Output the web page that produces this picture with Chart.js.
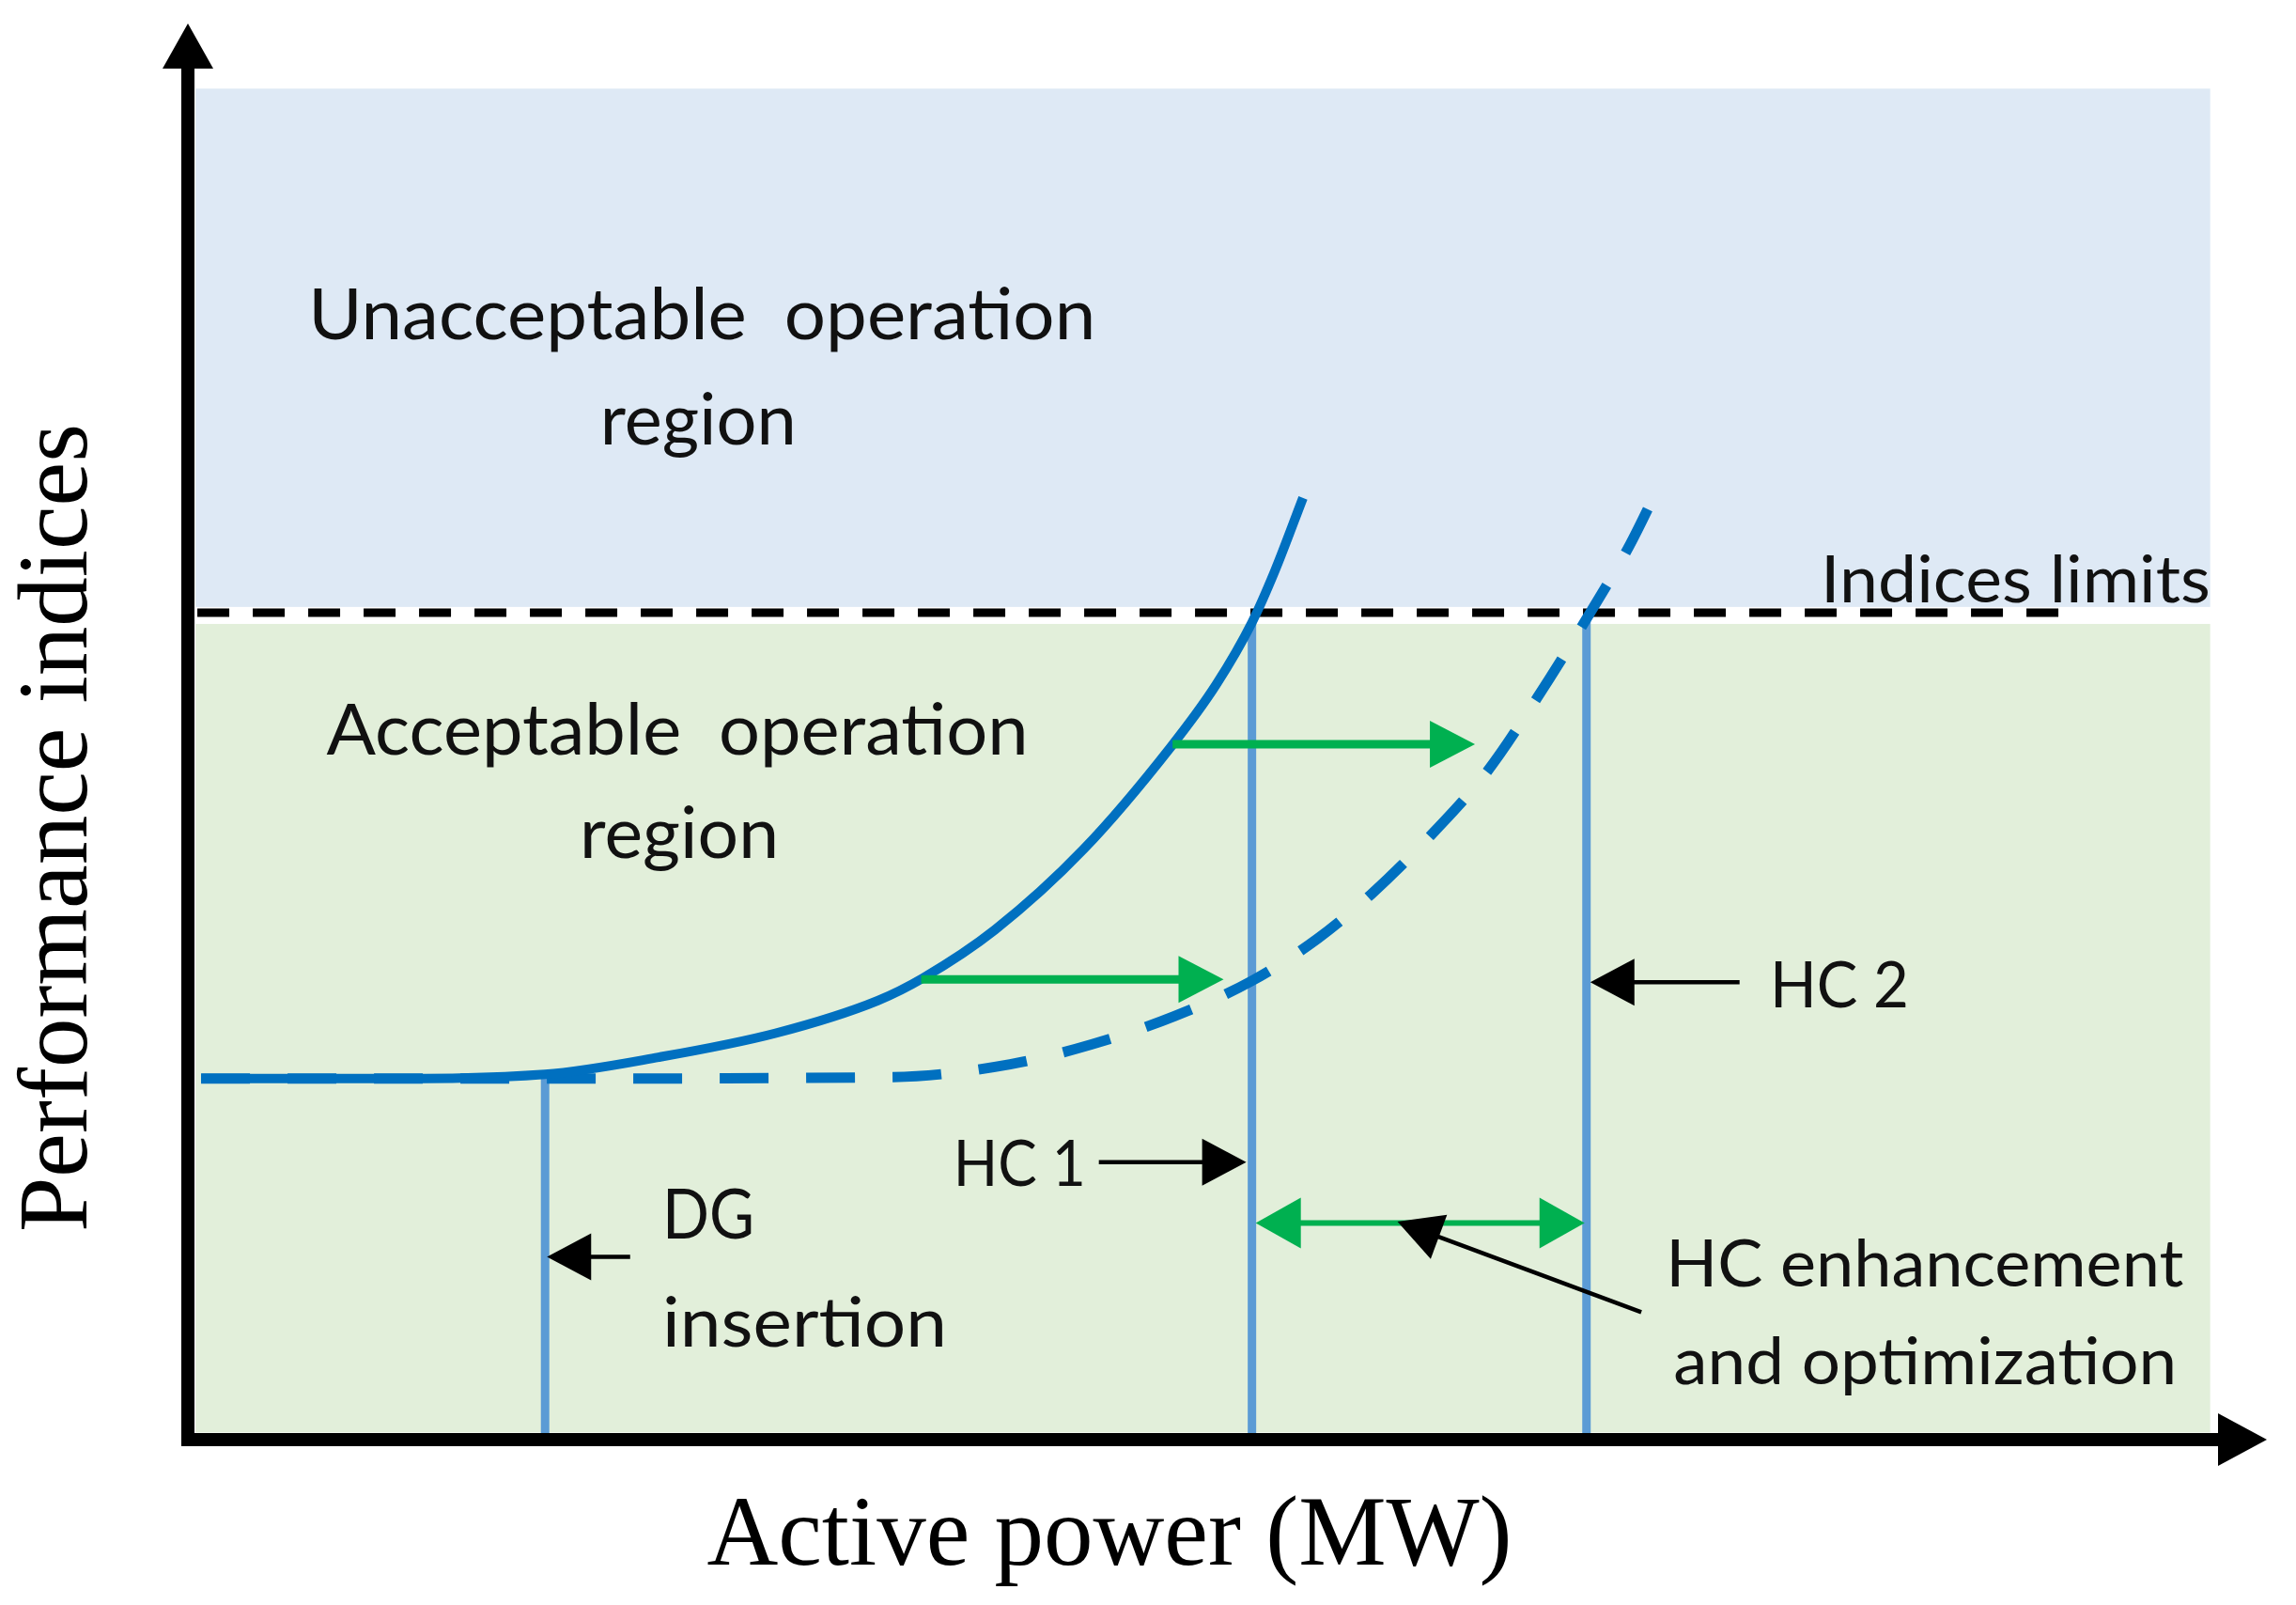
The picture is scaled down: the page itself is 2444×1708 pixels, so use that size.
<!DOCTYPE html>
<html>
<head>
<meta charset="utf-8">
<script src="https://cdn.jsdelivr.net/npm/chart.js@4/dist/chart.umd.min.js"></script>
<style>
html,body{margin:0;padding:0;background:#ffffff;}
#wrap{width:2444px;height:1708px;position:relative;}
</style>
</head>
<body>
<div id="wrap"><canvas id="c" width="2444" height="1708"></canvas></div>
<script>
// ---------------- DATA (abstract units: active power on x, performance index on y) ----------------
const originalCurveX = [0.07, 0.99, 1.89, 2.49, 3.11, 3.65, 3.89, 4.27, 4.74, 5.20, 5.44, 5.63, 5.75, 5.90];
const originalCurveY = [2.55, 2.55, 2.58, 2.70, 2.87, 3.10, 3.26, 3.60, 4.17, 4.89, 5.33, 5.77, 6.13, 6.65];

const enhancedCurveX = [0.07, 1.99, 3.73, 4.35, 4.78, 5.22, 5.63, 5.98, 6.26, 6.55, 6.87, 7.14, 7.42, 7.63, 7.80];
const enhancedCurveY = [2.55, 2.55, 2.56, 2.65, 2.79, 2.99, 3.24, 3.54, 3.85, 4.23, 4.71, 5.24, 5.84, 6.32, 6.78];

const indicesLimit = 5.84;
const limitLineX = [0.05, 10.01];

const regionX = [0.04, 10.70];
const unacceptableY = [5.88, 9.54];
const acceptableY = [0.05, 5.76];

// vertical markers: DG insertion, HC 1, HC 2
const markerNames = ["DG", "HC 1", "HC 2"];
const markerX = [1.89, 5.63, 7.40];
const markerTopY = [2.58, 5.77, 5.80];

// green shift arrows (original curve -> enhanced curve)
const shiftFromX = [3.88, 5.21];
const shiftToX = [5.48, 6.81];
const shiftY = [3.25, 4.91];

// HC enhancement span (HC 1 -> HC 2)
const spanX = [5.65, 7.39];
const spanY = 1.53;

// black pointer arrows: DG, HC 1, HC 2, enhancement
const pointerFromX = [2.34, 4.82, 8.21, 7.69];
const pointerFromY = [1.29, 1.96, 3.23, 0.90];
const pointerToX = [1.90, 5.60, 7.42, 6.40];
const pointerToY = [1.29, 1.96, 3.23, 1.54];

// text labels
const labelTexts = ["Unacceptable  operation", "region", "Acceptable  operation", "region",
  "Indices limits", "DG", "insertion", "HC 1", "HC 2", "HC enhancement", "and optimization"];
const axisTitleX = "Active power (MW)";
const axisTitleY = "Performance indices";

// ---------------- LAYOUT / STYLE ----------------
const labelLayout = [
  {x: 2.72, y: 7.77, align: 'center', size: 75, w: 838},
  {x: 2.70, y: 7.03, align: 'center', size: 75, w: 209},
  {x: 2.59, y: 4.84, align: 'center', size: 75, w: 747},
  {x: 2.60, y: 4.11, align: 'center', size: 75, w: 212},
  {x: 9.67, y: 5.91, align: 'center', size: 70, w: 415},
  {x: 2.51, y: 1.42, align: 'left', size: 74, w: 98},
  {x: 2.51, y: 0.66, align: 'left', size: 74, w: 303},
  {x: 4.05, y: 1.79, align: 'left', size: 67, w: 141},
  {x: 8.37, y: 3.05, align: 'left', size: 67, w: 148},
  {x: 7.82, y: 1.08, align: 'left', size: 70, w: 551},
  {x: 7.86, y: 0.39, align: 'left', size: 70, w: 536}
];
const BLUE_REGION = '#DEE9F5';
const GREEN_REGION = '#E2EFDA';
const CURVE = '#0070C0';
const MARKER = '#5B9BD5';
const GREEN = '#00B050';
const BLACK = '#000000';

const zip = (xs, ys) => xs.map((x, i) => ({x: x, y: ys[i]}));

const datasets = [
  {label: 'original', data: zip(originalCurveX, originalCurveY), showLine: true, borderColor: CURVE,
   borderWidth: 10, pointRadius: 0, cubicInterpolationMode: 'monotone', order: 0, borderCapStyle: 'butt'},
  {label: 'enhanced', data: zip(enhancedCurveX, enhancedCurveY), showLine: true, borderColor: CURVE,
   borderWidth: 11, borderDash: [52, 40], pointRadius: 0, cubicInterpolationMode: 'monotone', order: 1},
  {label: 'limit', data: zip(limitLineX, [indicesLimit, indicesLimit]), showLine: true, borderColor: BLACK,
   borderWidth: 9, borderDash: [34, 25], pointRadius: 0, order: 3}
];
markerX.forEach((mx, i) => {
  datasets.push({label: markerNames[i], data: [{x: mx, y: 0}, {x: mx, y: markerTopY[i]}], showLine: true,
    borderColor: MARKER, borderWidth: 9, pointRadius: 0, order: 2});
});

function arrowHead(ctx, x1, y1, x2, y2, len, half, color) {
  const a = Math.atan2(y2 - y1, x2 - x1);
  const bx = x2 - len * Math.cos(a), by = y2 - len * Math.sin(a);
  ctx.fillStyle = color;
  ctx.beginPath();
  ctx.moveTo(x2, y2);
  ctx.lineTo(bx + half * Math.sin(a), by - half * Math.cos(a));
  ctx.lineTo(bx - half * Math.sin(a), by + half * Math.cos(a));
  ctx.closePath();
  ctx.fill();
}
function arrow(ctx, x1, y1, x2, y2, color, lw, len, half, both) {
  const a = Math.atan2(y2 - y1, x2 - x1);
  ctx.save();
  ctx.strokeStyle = color; ctx.lineWidth = lw; ctx.lineCap = 'butt'; ctx.setLineDash([]);
  ctx.beginPath();
  const sx = both ? x1 + (len - 4) * Math.cos(a) : x1, sy = both ? y1 + (len - 4) * Math.sin(a) : y1;
  ctx.moveTo(sx, sy);
  ctx.lineTo(x2 - (len - 4) * Math.cos(a), y2 - (len - 4) * Math.sin(a));
  ctx.stroke();
  arrowHead(ctx, x1, y1, x2, y2, len, half, color);
  if (both) arrowHead(ctx, x2, y2, x1, y1, len, half, color);
  ctx.restore();
}

const diagramPlugin = {
  id: 'diagram',
  beforeDatasetsDraw(chart) {
    const {ctx, scales: {x, y}} = chart;
    ctx.save();
    ctx.fillStyle = BLUE_REGION;
    ctx.fillRect(x.getPixelForValue(regionX[0]), y.getPixelForValue(unacceptableY[1]),
      x.getPixelForValue(regionX[1]) - x.getPixelForValue(regionX[0]),
      y.getPixelForValue(unacceptableY[0]) - y.getPixelForValue(unacceptableY[1]));
    ctx.fillStyle = GREEN_REGION;
    ctx.fillRect(x.getPixelForValue(regionX[0]), y.getPixelForValue(acceptableY[1]),
      x.getPixelForValue(regionX[1]) - x.getPixelForValue(regionX[0]),
      y.getPixelForValue(acceptableY[0]) - y.getPixelForValue(acceptableY[1]));
    ctx.restore();
  },
  afterDatasetsDraw(chart) {
    const {ctx, chartArea, scales: {x, y}} = chart;
    const px = v => x.getPixelForValue(v), py = v => y.getPixelForValue(v);
    // green shift arrows
    shiftFromX.forEach((fx, i) => {
      arrow(ctx, px(fx), py(shiftY[i]), px(shiftToX[i]), py(shiftY[i]), GREEN, 9, 48, 25, false);
    });
    // enhancement span
    arrow(ctx, px(spanX[0]), py(spanY), px(spanX[1]), py(spanY), GREEN, 6, 48, 27, true);
    // pointer arrows
    pointerFromX.forEach((fx, i) => {
      arrow(ctx, px(fx), py(pointerFromY[i]), px(pointerToX[i]), py(pointerToY[i]), BLACK, 4.5, 47, 25, false);
    });
    // axes
    const ox = chartArea.left, oy = chartArea.bottom;
    ctx.save();
    ctx.strokeStyle = BLACK; ctx.lineWidth = 14; ctx.setLineDash([]);
    ctx.beginPath();
    ctx.moveTo(ox, oy + 7); ctx.lineTo(ox, chartArea.top + 45);
    ctx.moveTo(ox - 7, oy); ctx.lineTo(chartArea.right - 49, oy);
    ctx.stroke();
    arrowHead(ctx, ox, oy, ox, chartArea.top, 48, 27, BLACK);
    arrowHead(ctx, ox, oy, chartArea.right, oy, 52, 28, BLACK);
    ctx.restore();
    // labels
    ctx.save();
    ctx.fillStyle = '#111111';
    ctx.textBaseline = 'alphabetic';
    labelTexts.forEach((t, i) => {
      const L = labelLayout[i];
      ctx.font = L.size + 'px Lato';
      const m = ctx.measureText(t).width;
      const s = L.w / m;
      ctx.save();
      ctx.translate(px(L.x), py(L.y));
      ctx.scale(s, 1);
      ctx.textAlign = L.align;
      ctx.fillText(t, 0, 0);
      ctx.restore();
    });
    // axis titles
    ctx.font = '105px "Liberation Serif"';
    ctx.textAlign = 'center';
    ctx.fillStyle = '#000000';
    ctx.fillText(axisTitleX, 1181, oy + 133);
    ctx.save();
    ctx.translate(ox - 108, 881);
    ctx.rotate(-Math.PI / 2);
    ctx.fillText(axisTitleY, 0, 0);
    ctx.restore();
    ctx.restore();
  }
};

new Chart(document.getElementById('c').getContext('2d'), {
  type: 'scatter',
  data: {datasets: datasets},
  options: {
    responsive: false,
    animation: false,
    devicePixelRatio: 1,
    layout: {padding: {left: 200, top: 25, right: 31, bottom: 176}},
    scales: {
      x: {type: 'linear', min: 0, max: 11, display: false},
      y: {type: 'linear', min: 0, max: 10, display: false}
    },
    plugins: {legend: {display: false}, tooltip: {enabled: false}},
    elements: {point: {radius: 0}}
  },
  plugins: [diagramPlugin]
});
</script>
</body>
</html>
